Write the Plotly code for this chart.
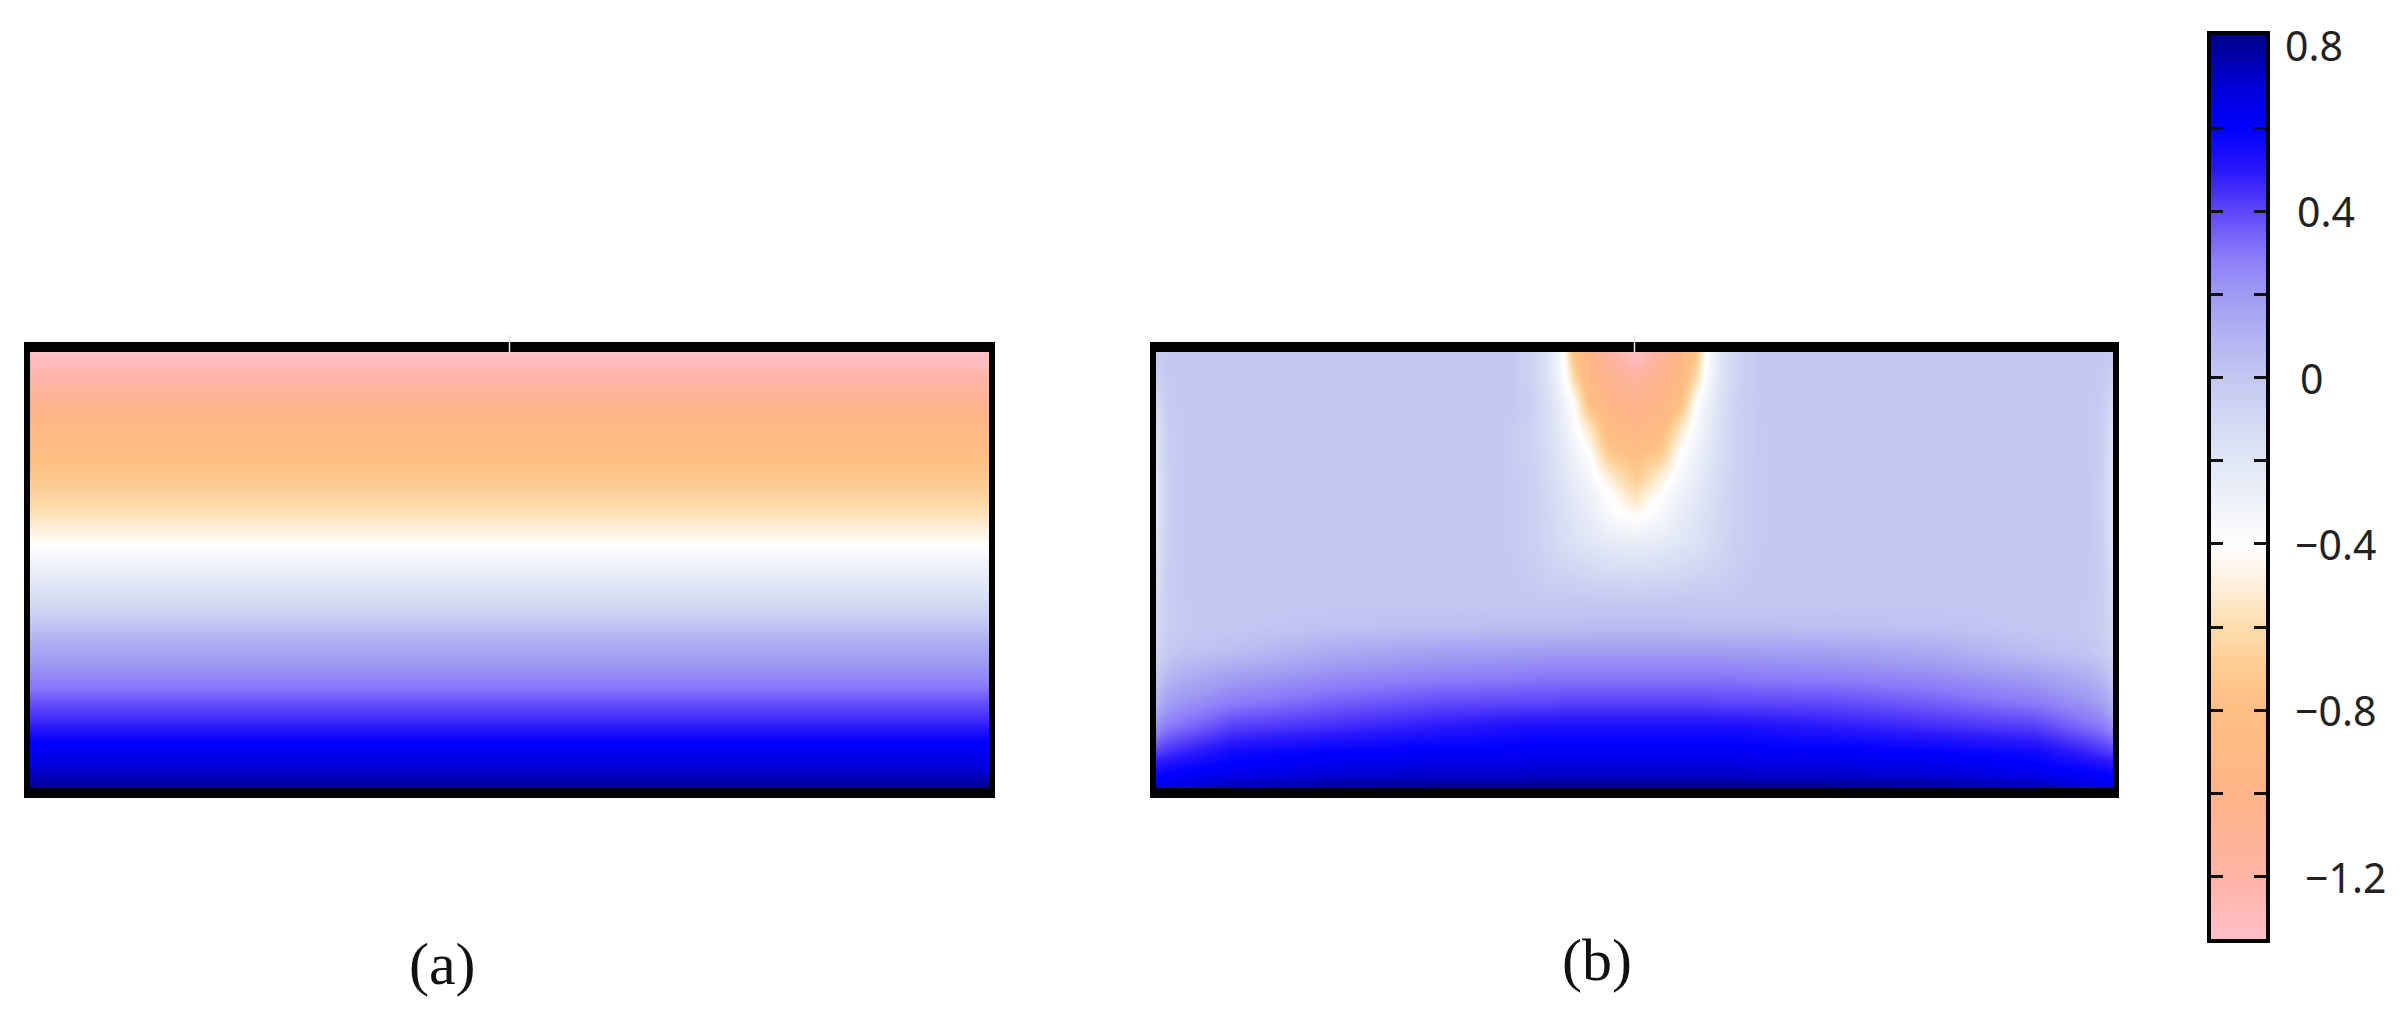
import plotly.graph_objects as go

W, H = 2407, 1017

# colour stops
scale_values = [-1.35, -1.2, -1.0, -0.8, -0.7, -0.6, -0.5, -0.4, -0.3, -0.2, -0.1, 0.0, 0.1, 0.2, 0.3, 0.4, 0.5, 0.6, 0.7, 0.824]
scale_colors = ["#ffbfc8", "#ffb3a5", "#ffb488", "#ffbe82", "#fdcb90", "#fddcae", "#feeed8", "#ffffff",
                "#f0f2fa", "#e0e6f5", "#d2d8f3", "#c4c8f2", "#b3b2f2", "#a09bf3", "#8a78fa", "#5f46fa",
                "#2a18fc", "#0000ff", "#0000d8", "#00008c"]

# colour bar ticks and labels
bar_ticks = [0.6, 0.4, 0.2, 0.0, -0.2, -0.4, -0.6, -0.8, -1.0, -1.2]
bar_label_values = [0.8, 0.4, 0.0, -0.4, -0.8, -1.2]
bar_label_texts = ["0.8", "0.4", "0", "\u22120.4", "\u22120.8", "\u22121.2"]
bar_label_left = [2283, 2295, 2298, 2293, 2293, 2303]

# panel (a): value at each depth below the top edge
depth_a = [0, 25, 50, 75, 100, 125, 150, 175, 193, 215, 240, 265, 290, 310, 335, 350, 370, 390, 415, 436]
values_a = [-1.35, -1.22, -1.06, -0.93, -0.83, -0.73, -0.63, -0.5, -0.4, -0.28, -0.17, -0.03, 0.12, 0.2, 0.3, 0.38, 0.47, 0.6, 0.7, 0.82]

# panel (b): depth rows, offset from the notch centre, half profile per row
depth_b = [0, 25, 50, 75, 100, 125, 143, 165, 190, 220, 250, 275, 300, 325, 350, 375, 400, 420, 436]
offset_b = [0, 25, 45, 60, 70, 85, 100, 125, 200, 300, 400, 450, 465, 477]
half_b = [
    [-1.35, -1.18, -0.98, -0.78, -0.42, -0.20, -0.08, 0.00, 0.00, 0.00, 0.00, 0.00, 0.00, -0.02],
    [-1.18, -1.06, -0.92, -0.62, -0.38, -0.20, -0.08, 0.00, 0.00, 0.00, 0.00, 0.00, -0.01, -0.05],
    [-1.05, -0.98, -0.80, -0.42, -0.30, -0.16, -0.06, 0.00, 0.00, 0.00, 0.00, 0.00, -0.02, -0.12],
    [-0.95, -0.88, -0.55, -0.36, -0.27, -0.15, -0.07, -0.01, 0.00, 0.00, 0.00, 0.00, -0.03, -0.16],
    [-0.82, -0.72, -0.40, -0.30, -0.23, -0.14, -0.07, -0.01, 0.00, 0.00, 0.00, 0.00, -0.03, -0.18],
    [-0.70, -0.50, -0.33, -0.26, -0.20, -0.12, -0.06, -0.01, 0.00, 0.00, 0.00, 0.00, -0.04, -0.20],
    [-0.57, -0.40, -0.28, -0.23, -0.18, -0.11, -0.05, -0.01, 0.00, 0.00, 0.00, 0.00, -0.04, -0.20],
    [-0.41, -0.34, -0.25, -0.20, -0.16, -0.10, -0.05, -0.01, 0.00, 0.00, 0.00, 0.00, -0.04, -0.20],
    [-0.26, -0.24, -0.20, -0.17, -0.14, -0.09, -0.05, -0.01, 0.00, 0.00, 0.00, 0.00, -0.04, -0.18],
    [-0.13, -0.12, -0.10, -0.08, -0.07, -0.06, -0.03, 0.00, 0.00, 0.00, 0.00, 0.00, -0.03, -0.15],
    [0.00, 0.00, 0.00, 0.00, 0.00, 0.00, 0.00, 0.00, 0.00, 0.00, 0.00, -0.01, -0.03, -0.12],
    [0.06, 0.06, 0.06, 0.05, 0.05, 0.05, 0.05, 0.05, 0.04, 0.03, 0.00, -0.01, -0.04, -0.10],
    [0.20, 0.20, 0.20, 0.20, 0.20, 0.20, 0.19, 0.19, 0.18, 0.14, 0.05, 0.02, -0.01, -0.08],
    [0.30, 0.30, 0.30, 0.30, 0.30, 0.30, 0.30, 0.29, 0.28, 0.25, 0.19, 0.12, 0.08, 0.00],
    [0.41, 0.41, 0.41, 0.41, 0.41, 0.40, 0.40, 0.40, 0.39, 0.35, 0.29, 0.22, 0.18, 0.10],
    [0.54, 0.54, 0.54, 0.54, 0.54, 0.54, 0.54, 0.53, 0.50, 0.46, 0.42, 0.33, 0.30, 0.24],
    [0.63, 0.63, 0.63, 0.63, 0.63, 0.63, 0.63, 0.62, 0.62, 0.60, 0.56, 0.48, 0.45, 0.42],
    [0.72, 0.72, 0.72, 0.72, 0.72, 0.72, 0.72, 0.71, 0.71, 0.69, 0.64, 0.60, 0.59, 0.57],
    [0.82, 0.82, 0.82, 0.82, 0.82, 0.82, 0.82, 0.82, 0.82, 0.81, 0.78, 0.70, 0.68, 0.66],
]

panel_labels = ["(a)", "(b)"]

# derived
vmin, vmax = scale_values[0], scale_values[-1]
colorscale = [[(v - vmin) / (vmax - vmin), c] for v, c in zip(scale_values, scale_colors)]
x_b = [-o for o in offset_b[:0:-1]] + offset_b
z_b = [row[:0:-1] + row for row in half_b]
common = dict(colorscale=colorscale, zmin=vmin, zmax=vmax, zsmooth="best", showscale=False, hoverinfo="skip")

fig = go.Figure()
fig.add_trace(go.Heatmap(x=[-477, 477], y=depth_a, z=[[v, v] for v in values_a], xaxis="x", yaxis="y", **common))
fig.add_trace(go.Heatmap(x=x_b, y=depth_b, z=z_b, xaxis="x2", yaxis="y2", **common))
fig.add_trace(go.Heatmap(x=[0, 1], y=scale_values, z=[[v, v] for v in scale_values], xaxis="x3", yaxis="y3", **common))


def px_x(a, b):
    return [a / W, b / W]


def px_y(top, bottom):
    return [1 - bottom / H, 1 - top / H]


frame = dict(showline=True, linecolor="black", mirror=True, showgrid=False, zeroline=False,
             showticklabels=False, ticks="")
fig.update_layout(
    width=W, height=H, autosize=False, margin=dict(l=0, r=0, t=0, b=0),
    paper_bgcolor="white", plot_bgcolor="white", showlegend=False,
    xaxis=dict(domain=px_x(30, 989), range=[-477, 477], anchor="y", linewidth=10, **frame),
    yaxis=dict(domain=px_y(352, 788), range=[436, 0], anchor="x", linewidth=6, **frame),
    xaxis2=dict(domain=px_x(1156, 2113), range=[-477, 477], anchor="y2", linewidth=10, **frame),
    yaxis2=dict(domain=px_y(352, 788), range=[436, 0], anchor="x2", linewidth=6, **frame),
    xaxis3=dict(domain=px_x(2211, 2266), range=[0, 1], anchor="y3", linewidth=3.5, **frame),
    yaxis3=dict(domain=px_y(35, 939), range=[vmin, vmax], anchor="x3", side="right", showline=True,
                linecolor="black", linewidth=3.5, mirror="allticks", showgrid=False, zeroline=False,
                showticklabels=False, ticks="inside", ticklen=12, tickwidth=3, tickcolor="#111111",
                tickvals=bar_ticks),
)

# faint mark at the middle of each top edge
for xr, yr in [("x domain", "y domain"), ("x2 domain", "y2 domain")]:
    fig.add_shape(type="line", xref=xr, yref=yr, x0=0.5, x1=0.5, y0=1.0, y1=1.04,
                  line=dict(color="#e8e8e8", width=1.5), layer="above")

for v, t, left in zip(bar_label_values, bar_label_texts, bar_label_left):
    fig.add_annotation(text=t, xref="paper", yref="y3", x=left / W, y=v, xanchor="left", yanchor="middle",
                       showarrow=False, font=dict(family="Noto Sans", size=41, color="#222222"))

for t, cx, cy in zip(panel_labels, [442, 1597], [964, 960]):
    fig.add_annotation(text=t, xref="paper", yref="paper", x=cx / W, y=1 - cy / H, xanchor="center",
                       yanchor="middle", showarrow=False,
                       font=dict(family="Liberation Serif", size=60, color="#111111"))

fig.write_html("out.html", config={"displayModeBar": False},
               post_script="document.body.style.margin='0';document.body.style.overflow='hidden';")
